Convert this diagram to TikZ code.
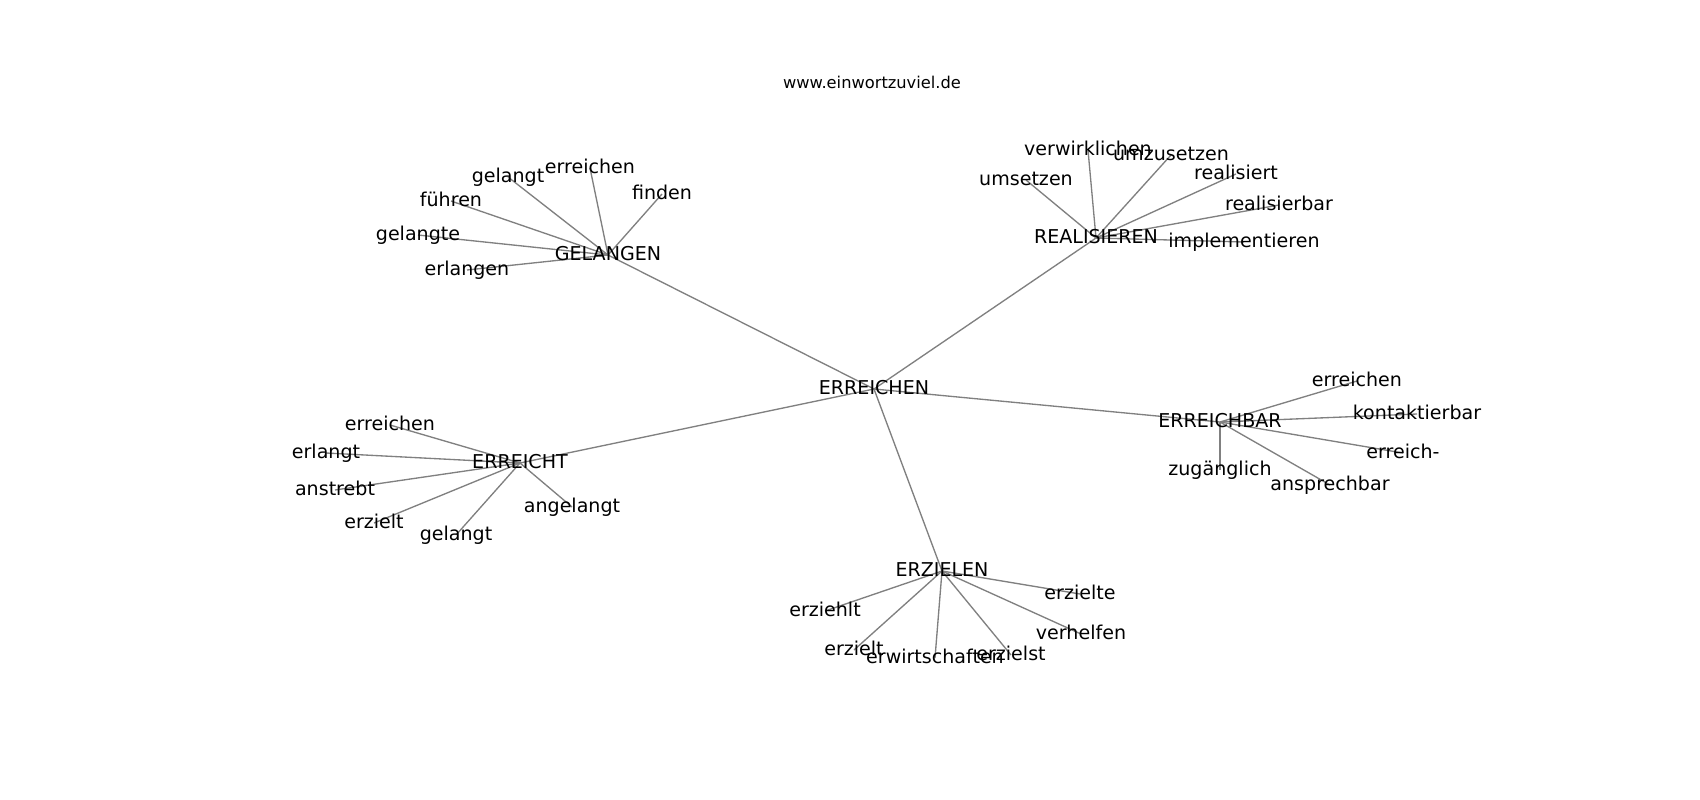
\documentclass[tikz,border=0pt]{standalone}
\usepackage{fontspec}
\setmainfont{DejaVu Sans}
\usetikzlibrary{backgrounds}
\pgfdeclarelayer{bg}
\pgfsetlayers{bg,background,main}
\begin{document}
\begin{tikzpicture}[x=0.75pt,y=-0.75pt,
  lbl/.style={inner sep=0pt,outer sep=0pt,text height=1.0em,text depth=0.14em,font=\fontsize{14.3}{17}\selectfont},
  ttl/.style={inner sep=0pt,font=\fontsize{12.2}{14}\selectfont},
  edge/.style={draw=gray,line width=1pt}]
\begin{pgfonlayer}{bg}
\fill[white] (0,0) rectangle (1700,800);
\end{pgfonlayer}
\useasboundingbox (0,0) rectangle (1700,800);
\node[ttl] (title) at (872,82) {www.einwortzuviel.de};
% hubs
\node[lbl] (C) at (874,389) {ERREICHEN};
\node[lbl] (G) at (608,255) {GELANGEN};
\node[lbl] (R) at (1096,238) {REALISIEREN};
\node[lbl] (T) at (520,463) {ERREICHT};
\node[lbl] (B) at (1220,422) {ERREICHBAR};
\node[lbl] (Z) at (942,571) {ERZIELEN};
% GELANGEN leaves
\node[lbl] (g1) at (508,177) {gelangt};
\node[lbl] (g2) at (590,168) {erreichen};
\node[lbl] (g3) at (662,194) {finden};
\node[lbl] (g4) at (451,201) {führen};
\node[lbl] (g5) at (418,235) {gelangte};
\node[lbl] (g6) at (467,270) {erlangen};
% REALISIEREN leaves
\node[lbl] (r1) at (1088,150) {verwirklichen};
\node[lbl] (r2) at (1171,155) {umzusetzen};
\node[lbl] (r3) at (1026,180) {umsetzen};
\node[lbl] (r4) at (1236,174) {realisiert};
\node[lbl] (r5) at (1279,205) {realisierbar};
\node[lbl] (r6) at (1244,242) {implementieren};
% ERREICHT leaves
\node[lbl] (t1) at (390,425) {erreichen};
\node[lbl] (t2) at (326,453) {erlangt};
\node[lbl] (t3) at (335,490) {anstrebt};
\node[lbl] (t4) at (374,523) {erzielt};
\node[lbl] (t5) at (456,535) {gelangt};
\node[lbl] (t6) at (572,507) {angelangt};
% ERREICHBAR leaves
\node[lbl] (b1) at (1357,381) {erreichen};
\node[lbl] (b2) at (1417,414) {kontaktierbar};
\node[lbl] (b3) at (1403,453) {erreich-};
\node[lbl] (b4) at (1220,470) {zugänglich};
\node[lbl] (b5) at (1330,485) {ansprechbar};
% ERZIELEN leaves
\node[lbl] (z1) at (825,611) {erziehlt};
\node[lbl] (z2) at (854,650) {erzielt};
\node[lbl] (z3) at (935,658) {erwirtschaften};
\node[lbl] (z4) at (1011,655) {erzielst};
\node[lbl] (z5) at (1080,594) {erzielte};
\node[lbl] (z6) at (1081,634) {verhelfen};
\begin{scope}[on background layer]
\foreach \h in {G,R,T,B,Z} \draw[edge] (C.center) -- (\h.center);
\foreach \l in {g1,g2,g3,g4,g5,g6} \draw[edge] (G.center) -- (\l.center);
\foreach \l in {r1,r2,r3,r4,r5,r6} \draw[edge] (R.center) -- (\l.center);
\foreach \l in {t1,t2,t3,t4,t5,t6} \draw[edge] (T.center) -- (\l.center);
\foreach \l in {b1,b2,b3,b4,b5} \draw[edge] (B.center) -- (\l.center);
\foreach \l in {z1,z2,z3,z4,z5,z6} \draw[edge] (Z.center) -- (\l.center);
\end{scope}
\end{tikzpicture}
\end{document}
